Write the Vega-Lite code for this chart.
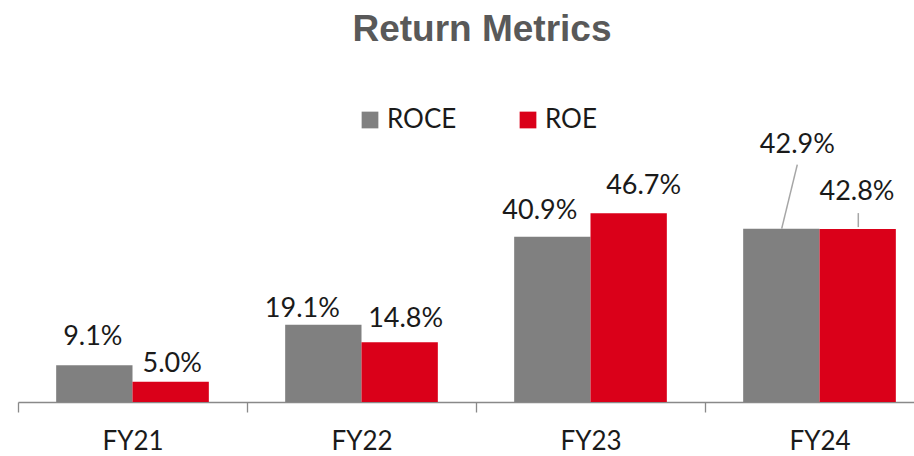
{
  "$schema": "https://vega.github.io/schema/vega-lite/v6.json",
  "width": 896,
  "height": 202,
  "autosize": {"type": "none"},
  "padding": {"left": 18, "top": 200, "right": 0, "bottom": 54},
  "background": "white",
  "config": {"view": {"stroke": null}},
  "title": {
    "text": "Return Metrics",
    "font": "Liberation Sans",
    "fontSize": 37,
    "fontWeight": "bold",
    "color": "#595959",
    "anchor": "middle",
    "frame": "group",
    "baseline": "alphabetic",
    "offset": 29,
    "dx": 16
  },
  "data": {
    "values": [
      {"year": "FY21", "series": "ROCE", "value": 0.091},
      {"year": "FY21", "series": "ROE", "value": 0.050},
      {"year": "FY22", "series": "ROCE", "value": 0.191},
      {"year": "FY22", "series": "ROE", "value": 0.148},
      {"year": "FY23", "series": "ROCE", "value": 0.409},
      {"year": "FY23", "series": "ROE", "value": 0.467},
      {"year": "FY24", "series": "ROCE", "value": 0.429},
      {"year": "FY24", "series": "ROE", "value": 0.428}
    ]
  },
  "encoding": {
    "x": {
      "field": "year",
      "type": "nominal",
      "sort": null,
      "scale": {"range": [0, 916], "paddingInner": 0, "paddingOuter": 0},
      "axis": {
        "title": null,
        "labelAngle": 0,
        "domainColor": "#898989",
        "domainWidth": 1.3,
        "tickColor": "#898989",
        "tickWidth": 1.3,
        "tickSize": 10,
        "tickBand": "extent",
        "labelFont": "Lato",
        "labelFontSize": 26,
        "labelColor": "#1a1a1a",
        "labelPadding": 16
      }
    },
    "y": {
      "field": "value",
      "type": "quantitative",
      "scale": {"domain": [0, 0.5]},
      "axis": null
    }
  },
  "layer": [
    {
      "mark": {"type": "bar"},
      "encoding": {
        "xOffset": {"field": "series", "type": "nominal", "sort": ["ROCE", "ROE"], "scale": {"paddingInner": 0, "paddingOuter": 0.5}},
        "color": {
          "field": "series",
          "type": "nominal",
          "scale": {"domain": ["ROCE", "ROE"], "range": ["#808080", "#DA0019"]},
          "legend": {
            "title": null,
            "orient": "none",
            "legendX": 339,
            "legendY": -93,
            "direction": "horizontal",
            "symbolType": "square",
            "symbolSize": 280,
            "symbolStrokeWidth": 0,
            "symbolOpacity": 1,
            "labelFont": "Lato",
            "labelFontSize": 26,
            "labelColor": "#1a1a1a",
            "labelOffset": 4,
            "columnPadding": 58
          }
        }
      }
    },
    {
      "transform": [{"filter": "datum.year == 'FY24' && datum.series == 'ROCE'"}],
      "mark": {"type": "rule", "color": "#a6a6a6", "strokeWidth": 1.5, "xOffset": -37.8, "x2Offset": -22.2, "y2Offset": -64},
      "encoding": {
        "x": {"field": "year", "type": "nominal", "bandPosition": 0.5},
        "x2": {"field": "year", "bandPosition": 0.5},
        "y2": {"field": "value"}
      }
    },
    {
      "transform": [{"filter": "datum.year == 'FY24' && datum.series == 'ROE'"}],
      "mark": {"type": "rule", "color": "#a6a6a6", "strokeWidth": 1.5, "xOffset": 38.8, "x2Offset": 38.8, "yOffset": -2, "y2Offset": -16},
      "encoding": {
        "x": {"field": "year", "type": "nominal", "bandPosition": 0.5},
        "x2": {"field": "year", "bandPosition": 0.5},
        "y2": {"field": "value"}
      }
    },
    {
      "transform": [{"filter": "datum.year == 'FY21' && datum.series == 'ROCE'"}],
      "mark": {"type": "text", "font": "Lato", "fontSize": 27, "color": "#1a1a1a", "baseline": "alphabetic", "align": "center", "dx": -1.5, "dy": -20},
      "encoding": {"xOffset": {"field": "series", "type": "nominal", "sort": ["ROCE", "ROE"], "scale": {"paddingInner": 0, "paddingOuter": 0.5}}, "text": {"field": "value", "format": ".1%"}}
    },
    {
      "transform": [{"filter": "datum.year == 'FY21' && datum.series == 'ROE'"}],
      "mark": {"type": "text", "font": "Lato", "fontSize": 27, "color": "#1a1a1a", "baseline": "alphabetic", "align": "center", "dx": 1.5, "dy": -9.5},
      "encoding": {"xOffset": {"field": "series", "type": "nominal", "sort": ["ROCE", "ROE"], "scale": {"paddingInner": 0, "paddingOuter": 0.5}}, "text": {"field": "value", "format": ".1%"}}
    },
    {
      "transform": [{"filter": "datum.year == 'FY22' && datum.series == 'ROCE'"}],
      "mark": {"type": "text", "font": "Lato", "fontSize": 27, "color": "#1a1a1a", "baseline": "alphabetic", "align": "center", "dx": -21, "dy": -8},
      "encoding": {"xOffset": {"field": "series", "type": "nominal", "sort": ["ROCE", "ROE"], "scale": {"paddingInner": 0, "paddingOuter": 0.5}}, "text": {"field": "value", "format": ".1%"}}
    },
    {
      "transform": [{"filter": "datum.year == 'FY22' && datum.series == 'ROE'"}],
      "mark": {"type": "text", "font": "Lato", "fontSize": 27, "color": "#1a1a1a", "baseline": "alphabetic", "align": "center", "dx": 6, "dy": -15},
      "encoding": {"xOffset": {"field": "series", "type": "nominal", "sort": ["ROCE", "ROE"], "scale": {"paddingInner": 0, "paddingOuter": 0.5}}, "text": {"field": "value", "format": ".1%"}}
    },
    {
      "transform": [{"filter": "datum.year == 'FY23' && datum.series == 'ROCE'"}],
      "mark": {"type": "text", "font": "Lato", "fontSize": 27, "color": "#1a1a1a", "baseline": "alphabetic", "align": "center", "dx": -12.5, "dy": -18},
      "encoding": {"xOffset": {"field": "series", "type": "nominal", "sort": ["ROCE", "ROE"], "scale": {"paddingInner": 0, "paddingOuter": 0.5}}, "text": {"field": "value", "format": ".1%"}}
    },
    {
      "transform": [{"filter": "datum.year == 'FY23' && datum.series == 'ROE'"}],
      "mark": {"type": "text", "font": "Lato", "fontSize": 27, "color": "#1a1a1a", "baseline": "alphabetic", "align": "center", "dx": 15, "dy": -19},
      "encoding": {"xOffset": {"field": "series", "type": "nominal", "sort": ["ROCE", "ROE"], "scale": {"paddingInner": 0, "paddingOuter": 0.5}}, "text": {"field": "value", "format": ".1%"}}
    },
    {
      "transform": [{"filter": "datum.year == 'FY24' && datum.series == 'ROCE'"}],
      "mark": {"type": "text", "font": "Lato", "fontSize": 27, "color": "#1a1a1a", "baseline": "alphabetic", "align": "center", "dx": 16, "dy": -76},
      "encoding": {"xOffset": {"field": "series", "type": "nominal", "sort": ["ROCE", "ROE"], "scale": {"paddingInner": 0, "paddingOuter": 0.5}}, "text": {"field": "value", "format": ".1%"}}
    },
    {
      "transform": [{"filter": "datum.year == 'FY24' && datum.series == 'ROE'"}],
      "mark": {"type": "text", "font": "Lato", "fontSize": 27, "color": "#1a1a1a", "baseline": "alphabetic", "align": "center", "dx": -0.7, "dy": -29},
      "encoding": {"xOffset": {"field": "series", "type": "nominal", "sort": ["ROCE", "ROE"], "scale": {"paddingInner": 0, "paddingOuter": 0.5}}, "text": {"field": "value", "format": ".1%"}}
    }
  ]
}
